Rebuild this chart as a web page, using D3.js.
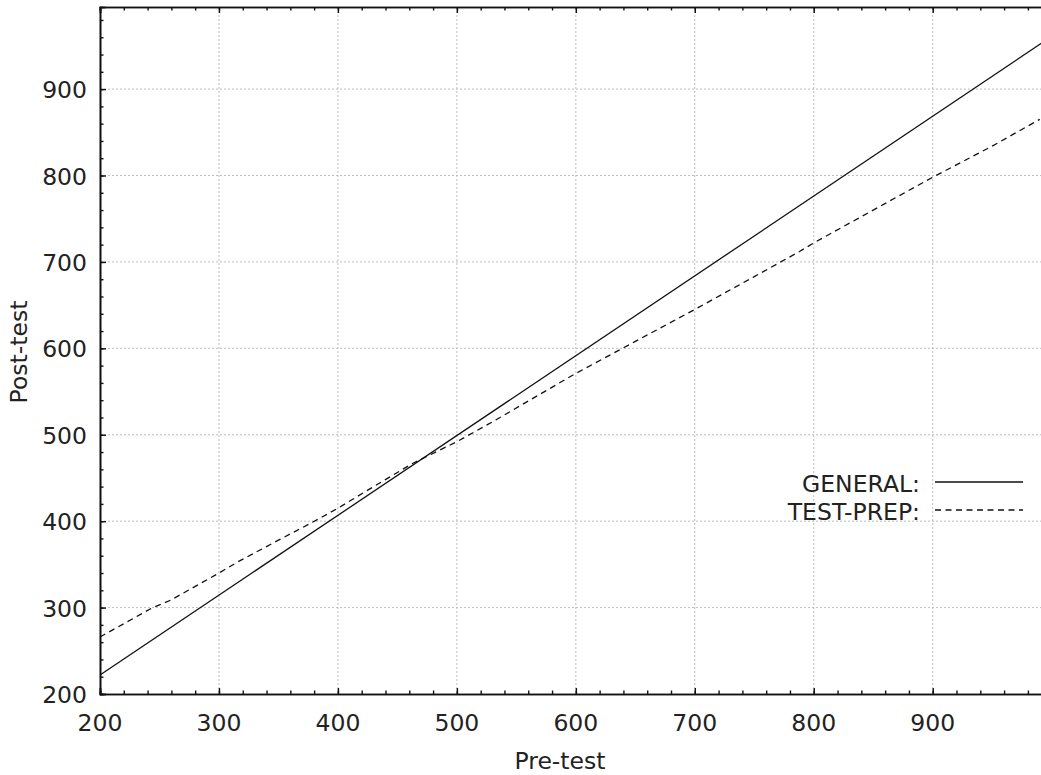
<!DOCTYPE html>
<html>
<head>
<meta charset="utf-8">
<script src="https://cdn.jsdelivr.net/npm/d3@7"></script>
<style>
    body { margin: 0; background: #fff; }
    text { font-family: "DejaVu Sans", sans-serif; fill: #222; }
</style>
</head>
<body>
<svg id="chart" width="1041" height="775"></svg>
<script>
(function () {
    "use strict";

    // pre-test scores and the two fitted lines
    var seriesNames = ["GENERAL", "TEST-PREP"];
    var generalPre = [200, 1000];
    var generalPost = [222, 961];
    var prepPre = [200, 243, 260, 300, 316, 350, 379, 400, 430, 463, 500, 530, 560, 600, 650, 700, 750, 788, 800, 850, 900, 950, 990];
    var prepPost = [266, 299, 309, 340, 353, 378, 399, 415, 440, 467, 492, 515, 539, 571, 608, 645, 683, 712, 722, 760, 798, 834, 865];
    var xTicks = [200, 300, 400, 500, 600, 700, 800, 900, 1000];
    var yTicks = [200, 300, 400, 500, 600, 700, 800, 900];

    var svg = d3.select("#chart");
    var left = 100, top = 7, bottom = 694;
    var pxPerUnit = 1.1896;
    var x = d3.scaleLinear().domain([200, 1000]).range([left, left + 800 * pxPerUnit]);
    var y = d3.scaleLinear().domain([200, 995]).range([bottom, top]);
    var right = x(1000);
    var fontSize = "23.5px";

    // grid
    var grid = svg.append("g").attr("stroke", "#bdbdbd").attr("stroke-dasharray", "2,2").attr("stroke-width", 1);
    xTicks.slice(1).forEach(function (t) {
        grid.append("line").attr("x1", x(t)).attr("x2", x(t)).attr("y1", top).attr("y2", bottom);
    });
    yTicks.slice(1).forEach(function (t) {
        grid.append("line").attr("x1", left).attr("x2", right).attr("y1", y(t)).attr("y2", y(t));
    });

    var minorX = d3.range(200, 1001, 20);
    var minorY = d3.range(200, 995, 20);

    // ticks point inward on every side
    var gx = svg.append("g").attr("transform", "translate(0," + bottom + ")")
        .call(d3.axisTop(x).tickValues(minorX).tickSize(3.5).tickFormat(""));
    var gxMajor = svg.append("g").attr("transform", "translate(0," + bottom + ")")
        .call(d3.axisTop(x).tickValues(xTicks).tickSize(6).tickFormat(""));
    var gxTop = svg.append("g").attr("transform", "translate(0," + top + ")")
        .call(d3.axisBottom(x).tickValues(minorX).tickSize(3.5).tickFormat(""));
    var gxTopMajor = svg.append("g").attr("transform", "translate(0," + top + ")")
        .call(d3.axisBottom(x).tickValues(xTicks).tickSize(6).tickFormat(""));

    var gy = svg.append("g").attr("transform", "translate(" + left + ",0)")
        .call(d3.axisRight(y).tickValues(minorY).tickSize(3.5).tickFormat(""));
    var gyMajor = svg.append("g").attr("transform", "translate(" + left + ",0)")
        .call(d3.axisRight(y).tickValues(yTicks).tickSize(6).tickFormat(""));

    [gx, gxMajor, gxTop, gxTopMajor, gy, gyMajor].forEach(function (g) {
        g.selectAll("path").attr("stroke", "#111").attr("stroke-width", 1.6);
        g.selectAll("line").attr("stroke", "#111").attr("stroke-width", 1.4);
    });

    // tick labels
    svg.append("g").selectAll("text").data(xTicks.slice(0, 8)).join("text")
        .attr("x", function (d) { return x(d); })
        .attr("y", 731)
        .attr("text-anchor", "middle")
        .style("font-size", fontSize)
        .text(function (d) { return d; });
    svg.append("g").selectAll("text").data(yTicks).join("text")
        .attr("x", 87)
        .attr("y", function (d) { return y(d) + 9; })
        .attr("text-anchor", "end")
        .style("font-size", fontSize)
        .text(function (d) { return d; });

    svg.append("text").attr("x", 560).attr("y", 769).attr("text-anchor", "middle")
        .style("font-size", fontSize).text("Pre-test");
    svg.append("text").attr("transform", "translate(27,352) rotate(-90)").attr("text-anchor", "middle")
        .style("font-size", fontSize).text("Post-test");

    // lines
    var line = d3.line()
        .x(function (d) { return x(d[0]); })
        .y(function (d) { return y(d[1]); });
    var generalData = d3.zip(generalPre, generalPost);
    var prepData = d3.zip(prepPre, prepPost);

    svg.append("path").datum(generalData).attr("d", line)
        .attr("fill", "none").attr("stroke", "#111").attr("stroke-width", 1.3);
    svg.append("path").datum(prepData).attr("d", line)
        .attr("fill", "none").attr("stroke", "#111").attr("stroke-width", 1.3)
        .attr("stroke-dasharray", "6,4.5");

    // legend
    var legendY = [482, 510];
    seriesNames.forEach(function (name, i) {
        svg.append("text").attr("x", 920).attr("y", legendY[i] + 10)
            .attr("text-anchor", "end").style("font-size", fontSize).text(name + ":");
        var l = svg.append("line").attr("x1", 935).attr("x2", 1023)
            .attr("y1", legendY[i]).attr("y2", legendY[i])
            .attr("stroke", "#111").attr("stroke-width", 1.3);
        if (i === 1) {
            l.attr("stroke-dasharray", "6,4.5");
        }
    });
})();
</script>
</body>
</html>
